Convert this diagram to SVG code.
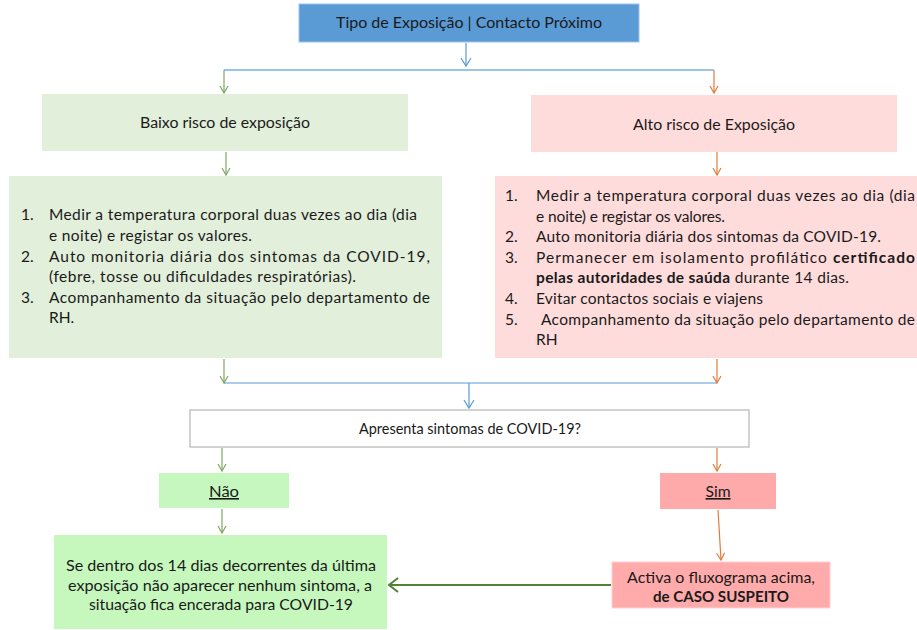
<svg xmlns="http://www.w3.org/2000/svg" width="917" height="630" viewBox="0 0 917 630">
<style>
  .t { font-family: Lato, "Liberation Sans", sans-serif; font-size: 15.5px; fill: #1a1a1a; }
  .c { font-family: Lato, "Liberation Sans", sans-serif; font-size: 16px; fill: #1a1a1a; }
  .b { font-weight: bold; }
  .ln { fill: none; stroke-width: 1.2; }
  .blue { stroke: #5B9BD5; }
  .green { stroke: #7EA860; }
  .orange { stroke: #E07B3C; }
</style>
<defs>
  <marker id="ab" markerUnits="userSpaceOnUse" markerWidth="12" markerHeight="12" refX="10" refY="6" orient="auto">
    <path d="M2,1 L10,6 L2,11" fill="none" stroke="#5B9BD5" stroke-width="1.2"/>
  </marker>
  <marker id="ag" markerUnits="userSpaceOnUse" markerWidth="12" markerHeight="12" refX="10" refY="6" orient="auto">
    <path d="M3,2 L10,6 L3,10" fill="none" stroke="#7EA860" stroke-width="1.2"/>
  </marker>
  <marker id="ao" markerUnits="userSpaceOnUse" markerWidth="12" markerHeight="12" refX="10" refY="6" orient="auto">
    <path d="M3,2 L10,6 L3,10" fill="none" stroke="#E07B3C" stroke-width="1.2"/>
  </marker>
  <marker id="adg" markerUnits="userSpaceOnUse" markerWidth="16" markerHeight="16" refX="13" refY="8" orient="auto">
    <path d="M4,1 L13,8 L4,15" fill="none" stroke="#548235" stroke-width="2"/>
  </marker>
</defs>

<g id="connectors">
  <line class="ln blue" x1="466" y1="43" x2="466" y2="66" marker-end="url(#ab)"/>
  <line x1="224" y1="70" x2="714" y2="70" stroke="#9DC3E6" stroke-width="2"/>
  <line class="ln green" x1="224" y1="70" x2="224" y2="93" marker-end="url(#ag)"/>
  <line class="ln orange" x1="714" y1="70" x2="714" y2="93" marker-end="url(#ao)"/>
  <line class="ln green" x1="226" y1="152" x2="226" y2="175" marker-end="url(#ag)"/>
  <line class="ln orange" x1="717" y1="152" x2="717" y2="175" marker-end="url(#ao)"/>
  <line class="ln green" x1="224" y1="359" x2="224" y2="383" marker-end="url(#ag)"/>
  <line class="ln orange" x1="717" y1="359" x2="717" y2="383" marker-end="url(#ao)"/>
  <line class="ln blue" x1="224" y1="383" x2="717" y2="383"/>
  <line class="ln blue" x1="469" y1="383" x2="469" y2="408" marker-end="url(#ab)"/>
  <line class="ln green" x1="222" y1="448" x2="222" y2="471" marker-end="url(#ag)"/>
  <line class="ln orange" x1="717" y1="448" x2="717" y2="471" marker-end="url(#ao)"/>
  <line class="ln green" x1="222" y1="509" x2="222" y2="533" marker-end="url(#ag)"/>
  <line class="ln orange" x1="718" y1="510" x2="721" y2="560" marker-end="url(#ao)"/>
  <line x1="611" y1="585" x2="389" y2="585" stroke="#548235" stroke-width="2" marker-end="url(#adg)"/>
</g>

<g id="tipo">
  <rect x="299" y="4" width="340" height="38" fill="#5B9BD5" stroke="#9DC3E6" stroke-width="1"/>
  <text class="c" x="469" y="28" text-anchor="middle" textLength="266" lengthAdjust="spacingAndGlyphs">Tipo de Exposição | Contacto Próximo</text>
</g>

<g id="baixo">
  <rect x="42" y="94" width="366" height="57" fill="#E2EFDA"/>
  <text class="t" x="225" y="128" text-anchor="middle" textLength="170" lengthAdjust="spacingAndGlyphs">Baixo risco de exposição</text>
</g>

<g id="alto">
  <rect x="531" y="95" width="366" height="57" fill="#FFDCDC"/>
  <text class="t" x="714" y="130" text-anchor="middle" textLength="162" lengthAdjust="spacingAndGlyphs">Alto risco de Exposição</text>
</g>

<g id="baixo-medidas">
  <rect x="9" y="176" width="433" height="182" fill="#E2EFDA"/>
  <text class="t" x="21" y="220">1.</text>
  <text class="t" x="49" y="220" textLength="368" lengthAdjust="spacing">Medir a temperatura corporal duas vezes ao dia (dia</text>
  <text class="t" x="49" y="241" textLength="203" lengthAdjust="spacing">e noite) e registar os valores.</text>
  <text class="t" x="21" y="262">2.</text>
  <text class="t" x="49" y="262" textLength="381" lengthAdjust="spacing">Auto monitoria diária dos sintomas da COVID-19,</text>
  <text class="t" x="49" y="282" textLength="307" lengthAdjust="spacing">(febre, tosse ou dificuldades respiratórias).</text>
  <text class="t" x="21" y="303">3.</text>
  <text class="t" x="49" y="303" textLength="381" lengthAdjust="spacing">Acompanhamento da situação pelo departamento de</text>
  <text class="t" x="49" y="323">RH.</text>
</g>

<g id="alto-medidas">
  <rect x="495" y="176" width="425" height="182" fill="#FFDCDC"/>
  <text class="t" x="505" y="201">1.</text>
  <text class="t" x="536" y="201" textLength="379" lengthAdjust="spacing">Medir a temperatura corporal duas vezes ao dia (dia</text>
  <text class="t" x="536" y="221.6" textLength="189" lengthAdjust="spacing">e noite) e registar os valores.</text>
  <text class="t" x="505" y="242.2">2.</text>
  <text class="t" x="536" y="242.2" textLength="345" lengthAdjust="spacing">Auto monitoria diária dos sintomas da COVID-19.</text>
  <text class="t" x="505" y="262.8">3.</text>
  <text class="t" x="536" y="262.8" textLength="379" lengthAdjust="spacing">Permanecer em isolamento profilático <tspan class="b">certificado</tspan></text>
  <text class="t" x="536" y="283.4" textLength="313" lengthAdjust="spacing"><tspan class="b">pelas autoridades de saúda</tspan> durante 14 dias.</text>
  <text class="t" x="505" y="304">4.</text>
  <text class="t" x="536" y="304" textLength="227" lengthAdjust="spacing">Evitar contactos sociais e viajens</text>
  <text class="t" x="505" y="324.6">5.</text>
  <text class="t" x="541" y="324.6" textLength="374" lengthAdjust="spacing">Acompanhamento da situação pelo departamento de</text>
  <text class="t" x="536" y="345.2">RH</text>
</g>

<g id="pergunta">
  <rect x="190" y="410" width="559" height="37" fill="#FFFFFF" stroke="#A6A6A6" stroke-width="1"/>
  <text class="c" x="470" y="434" text-anchor="middle" textLength="222" lengthAdjust="spacingAndGlyphs">Apresenta sintomas de COVID-19?</text>
</g>

<g id="nao">
  <rect x="159" y="473" width="130" height="35" fill="#C6F7BE"/>
  <text class="c" x="224" y="497" text-anchor="middle" textLength="30" lengthAdjust="spacingAndGlyphs" text-decoration="underline">Não</text>
</g>

<g id="sim">
  <rect x="660" y="473" width="116" height="36" fill="#FFAAAA"/>
  <text class="c" x="718" y="497" text-anchor="middle" textLength="25" lengthAdjust="spacingAndGlyphs" text-decoration="underline">Sim</text>
</g>

<g id="encerrada">
  <rect x="54" y="535" width="333" height="94" fill="#C6F8BE"/>
  <text class="c" x="221" y="571" text-anchor="middle" textLength="310" lengthAdjust="spacingAndGlyphs">Se dentro dos 14 dias decorrentes da última</text>
  <text class="c" x="220" y="591" text-anchor="middle" textLength="304" lengthAdjust="spacingAndGlyphs">exposição não aparecer nenhum sintoma, a</text>
  <text class="c" x="221" y="610" text-anchor="middle" textLength="264" lengthAdjust="spacingAndGlyphs">situação fica encerada para COVID-19</text>
</g>

<g id="activa">
  <rect x="612" y="562" width="218" height="46" fill="#FFABAB" stroke="#FFD0D0" stroke-width="1"/>
  <text class="c" x="721" y="583" text-anchor="middle" textLength="188" lengthAdjust="spacingAndGlyphs">Activa o fluxograma acima,</text>
  <text class="c b" x="721" y="602" text-anchor="middle" textLength="136" lengthAdjust="spacingAndGlyphs">de CASO SUSPEITO</text>
</g>
</svg>
